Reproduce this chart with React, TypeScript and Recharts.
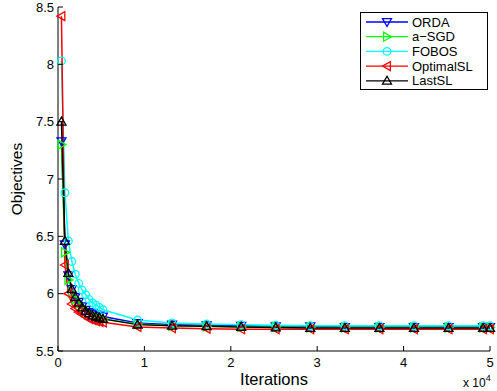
import React from 'react';
import { LineChart, Line, XAxis, YAxis, Legend, Label } from 'recharts';

// iteration counts (axis shows them in units of 10^4)
const iterations = [
  400, 800, 1200, 1600, 2000, 2400, 2800, 3200, 3600, 4000, 4400, 4800, 5200,
  9200, 13200, 17200, 21200, 25200, 29200, 33200, 37200, 41200, 45200, 49200, 50000,
];

const ordaVals = [
  7.33, 6.43, 6.16, 6.04, 5.97, 5.93, 5.89, 5.86, 5.84, 5.83, 5.82, 5.81, 5.8,
  5.745, 5.73, 5.725, 5.72, 5.715, 5.715, 5.71, 5.71, 5.71, 5.71, 5.71, 5.71,
];
const asgdVals = [
  7.3, 6.36, 6.12, 6.01, 5.95, 5.91, 5.88, 5.85, 5.83, 5.81, 5.8, 5.79, 5.78,
  5.735, 5.72, 5.715, 5.71, 5.71, 5.705, 5.705, 5.705, 5.705, 5.705, 5.705, 5.705,
];
const fobosVals = [
  8.03, 6.88, 6.46, 6.28, 6.17, 6.09, 6.03, 5.99, 5.95, 5.92, 5.9, 5.88, 5.86,
  5.77, 5.745, 5.735, 5.73, 5.725, 5.72, 5.72, 5.72, 5.72, 5.72, 5.72, 5.72,
];
const optimalVals = [
  8.42, 6.25, 6.0, 5.91, 5.87, 5.84, 5.82, 5.8, 5.78, 5.77, 5.76, 5.755, 5.75,
  5.71, 5.7, 5.695, 5.69, 5.69, 5.69, 5.69, 5.69, 5.69, 5.69, 5.69, 5.69,
];
const lastVals = [
  7.5, 6.46, 6.18, 6.04, 5.97, 5.92, 5.88, 5.85, 5.83, 5.81, 5.8, 5.79, 5.78,
  5.73, 5.72, 5.715, 5.71, 5.705, 5.7, 5.7, 5.7, 5.7, 5.7, 5.7, 5.7,
];

const seriesNames = ['ORDA', 'a\u2212SGD', 'FOBOS', 'OptimalSL', 'LastSL'];
const seriesColors = ['#0000ff', '#00ff00', '#00ffff', '#ff0000', '#000000'];
const seriesShapes = ['down', 'right', 'circle', 'left', 'up'];
const seriesValues = [ordaVals, asgdVals, fobosVals, optimalVals, lastVals];

const xTicks = [0, 10000, 20000, 30000, 40000, 50000];
const yTicks = [5.5, 6, 6.5, 7, 7.5, 8, 8.5];

const chartData = iterations.map((it, i) => {
  const row: any = { it };
  seriesNames.forEach((n, k) => (row[n] = seriesValues[k][i]));
  return row;
});

const FONT = '"Liberation Sans", Arial, Helvetica, sans-serif';

const Marker = ({ shape, cx, cy, color }: any) => {
  const r = 4.5;
  if (shape === 'circle') {
    return <circle cx={cx} cy={cy} r={3.8} fill="none" stroke={color} strokeWidth={1.3} />;
  }
  let d = '';
  if (shape === 'up') d = `M${cx},${cy - r} L${cx + r},${cy + r * 0.75} L${cx - r},${cy + r * 0.75} Z`;
  if (shape === 'down') d = `M${cx},${cy + r} L${cx + r},${cy - r * 0.75} L${cx - r},${cy - r * 0.75} Z`;
  if (shape === 'right') d = `M${cx + r},${cy} L${cx - r * 0.75},${cy - r} L${cx - r * 0.75},${cy + r} Z`;
  if (shape === 'left') d = `M${cx - r},${cy} L${cx + r * 0.75},${cy - r} L${cx + r * 0.75},${cy + r} Z`;
  return <path d={d} fill="none" stroke={color} strokeWidth={1.3} />;
};

const BottomTick = ({ x, y, payload }: any) => (
  <g>
    <line x1={x} x2={x} y1={y} y2={y - 5} stroke="#000" />
    <text x={x} y={y + 16} textAnchor="middle" fontSize={13} fontFamily={FONT} fill="#000">
      {payload.value / 10000}
    </text>
  </g>
);

const TopTick = ({ x, y }: any) => <line x1={x} x2={x} y1={y} y2={y + 5} stroke="#000" />;

const LeftTick = ({ x, y, payload }: any) => (
  <g>
    <line x1={x} x2={x + 5} y1={y} y2={y} stroke="#000" />
    <text x={x - 4} y={y + 4.5} textAnchor="end" fontSize={13} fontFamily={FONT} fill="#000">
      {payload.value}
    </text>
  </g>
);

const RightTick = ({ x, y }: any) => <line x1={x} x2={x - 5} y1={y} y2={y} stroke="#000" />;

const LegendBox = () => (
  <svg width={129} height={79} style={{ display: 'block' }}>
    <rect x={0.5} y={0.5} width={127} height={77} fill="#fff" stroke="#000" />
    {seriesNames.map((n, i) => {
      const cy = 10 + i * 14.7;
      return (
        <g key={n}>
          <line x1={6} x2={48} y1={cy} y2={cy} stroke={seriesColors[i]} strokeWidth={1.3} />
          <Marker shape={seriesShapes[i]} cx={27} cy={cy} color={seriesColors[i]} />
          <text x={52} y={cy + 4.5} fontSize={13} fontFamily={FONT} fill="#000">
            {n}
          </text>
        </g>
      );
    })}
  </svg>
);

export default function App() {
  return (
    <div style={{ position: 'absolute', left: 0, top: 0, background: '#fff' }}>
      <LineChart
        width={497}
        height={391}
        data={chartData}
        margin={{ top: 7, right: 7, bottom: 0, left: 0 }}
      >
        <XAxis
          dataKey="it"
          type="number"
          domain={[0, 50000]}
          ticks={xTicks}
          height={40}
          tickSize={0}
          tickMargin={0}
          tickLine={false}
          axisLine={{ stroke: '#000' }}
          tick={<BottomTick />}
          interval={0}
        >
          <Label
            content={() => (
              <g>
                <text x={274} y={385} textAnchor="middle" fontSize={16.5} fontFamily={FONT} fill="#000">
                  Iterations
                </text>
                <text x={463} y={387} fontSize={12} fontFamily={FONT} fill="#000">
                  x 10
                  <tspan dy={-6} fontSize={9}>4</tspan>
                </text>
              </g>
            )}
          />
        </XAxis>
        <XAxis
          xAxisId="top"
          orientation="top"
          type="number"
          domain={[0, 50000]}
          ticks={xTicks}
          height={0}
          tickSize={0}
          tickMargin={0}
          tickLine={false}
          axisLine={{ stroke: '#000' }}
          tick={<TopTick />}
          interval={0}
        />
        <YAxis
          type="number"
          domain={[5.5, 8.5]}
          ticks={yTicks}
          width={58}
          tickSize={0}
          tickMargin={0}
          tickLine={false}
          axisLine={{ stroke: '#000' }}
          tick={<LeftTick />}
          interval={0}
        >
          <Label
            content={() => (
              <text
                x={22}
                y={179}
                transform="rotate(-90 22 179)"
                textAnchor="middle"
                fontSize={15.5}
                fontFamily={FONT}
                fill="#000"
              >
                Objectives
              </text>
            )}
          />
        </YAxis>
        <YAxis
          yAxisId="right"
          orientation="right"
          type="number"
          domain={[5.5, 8.5]}
          ticks={yTicks}
          width={0}
          tickSize={0}
          tickMargin={0}
          tickLine={false}
          axisLine={{ stroke: '#000' }}
          tick={<RightTick />}
          interval={0}
        />
        {seriesNames.map((n, k) => (
          <Line
            key={n}
            dataKey={n}
            stroke={seriesColors[k]}
            strokeWidth={1.5}
            isAnimationActive={false}
            dot={(p: any) => (
              <Marker key={`${n}-${p.index}`} shape={seriesShapes[k]} cx={p.cx} cy={p.cy} color={seriesColors[k]} />
            )}
            activeDot={false}
          />
        ))}
        <Legend
          layout="vertical"
          align="center"
          verticalAlign="middle"
          wrapperStyle={{ position: 'absolute', left: 360, top: 12, width: 129, height: 79 }}
          content={() => <LegendBox />}
        />
      </LineChart>
    </div>
  );
}
